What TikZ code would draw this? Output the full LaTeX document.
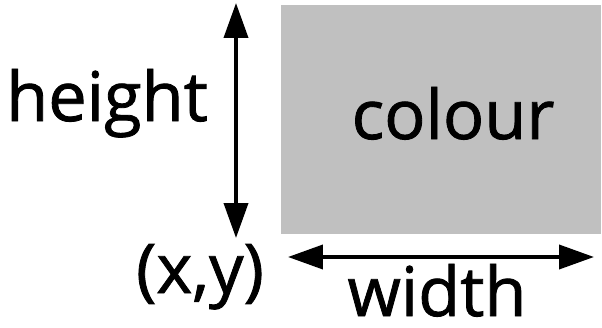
\documentclass[tikz,border=0pt]{standalone}
\usepackage{fontspec}
\setmainfont{Open Sans}
\newfontfamily\labelfont{Open Sans}[FakeBold=1.2]
\usetikzlibrary{arrows.meta}

\definecolor{boxgrey}{HTML}{C0C0C0}

\begin{document}
\begin{tikzpicture}[
  x=0.02cm, y=-0.02cm,
  area/.style  = {fill=boxgrey, draw=none},
  dim/.style   = {{Triangle[length=0.7cm, width=0.48cm]}-{Triangle[length=0.7cm, width=0.48cm]},
                  line width=2.2pt, draw=black},
  lbl/.style   = {font=\labelfont\fontsize{39}{44}\selectfont, inner sep=0pt, anchor=base}
]
\useasboundingbox (0,0) rectangle (602,328);

% the coloured area
\fill[area] (281,5) rectangle (601,234);
\node[lbl] (colour) at (453,139) {colour};

% end points of the dimension arrows
\coordinate (htop) at (236,3);
\coordinate (hbot) at (236,238);
\coordinate (wleft) at (288,257);
\coordinate (wright) at (594,257);

\draw[dim] (htop) -- (hbot);
\draw[dim] (wleft) -- (wright);

% labels
\node[lbl] (height) at (107,121) {height};
\node[lbl, text depth=0pt] (width) at (437,316) {width};
\node[lbl] (xy) at (200,293) {(x,y)};

\end{tikzpicture}
\end{document}
